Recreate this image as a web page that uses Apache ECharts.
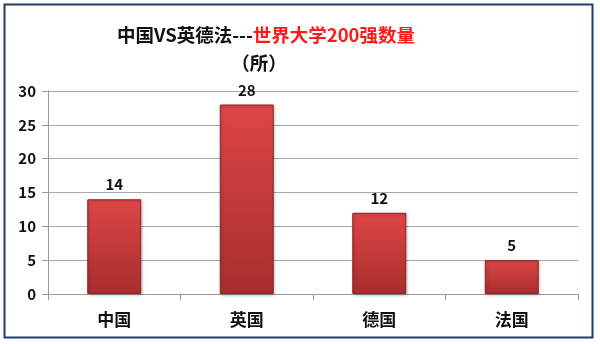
<!DOCTYPE html>
<html><head><meta charset="utf-8">
<script src="https://cdn.jsdelivr.net/npm/echarts@6/dist/echarts.min.js"></script>
<style>html,body{margin:0;padding:0;background:#fff}#c{width:600px;height:344px}</style>
</head><body><div id="c"></div>
<script>
const categories = ['中国', '英国', '德国', '法国'];
const values = [14, 28, 12, 5];
const yTicks = [0, 5, 10, 15, 20, 25, 30];

const chart = echarts.init(document.getElementById('c'), null, {renderer: 'canvas'});
const font = '"Noto Sans CJK SC", "Noto Sans", sans-serif';
chart.setOption({
  backgroundColor: '#fff',
  animation: false,
  graphic: [{
    type: 'rect', shape: {x: 4.5, y: 4.5, width: 588, height: 333},
    style: {fill: 'none', stroke: '#1f3a6e', lineWidth: 2}, silent: true
  }],
  title: [{
    text: '{b|中国VS英德法---}{r|世界大学200强数量}',
    left: 261, textAlign: 'center', top: 16,
    textStyle: {
      fontFamily: font, lineHeight: 28,
      rich: {
        b: {fontFamily: font, fontSize: 18.5, fontWeight: 'bold', color: '#111', lineHeight: 28},
        r: {fontFamily: font, fontSize: 18.5, fontWeight: 'bold', color: '#ff1a1a', lineHeight: 28}
      }
    }
  }, {
    text: '（所）',
    left: 254, textAlign: 'center', top: 44,
    textStyle: {fontFamily: font, fontSize: 18.5, fontWeight: 'bold', color: '#111', lineHeight: 28}
  }],
  grid: {left: 48, right: 22, top: 91, bottom: 50, containLabel: false},
  xAxis: {
    type: 'category', data: categories,
    axisLine: {lineStyle: {color: '#999', width: 1}},
    axisTick: {show: true, length: 6, lineStyle: {color: '#999'}, alignWithLabel: false},
    axisLabel: {fontFamily: font, fontSize: 17, fontWeight: 'bold', color: '#111', margin: 17}
  },
  yAxis: {
    type: 'value', min: 0, max: 30, interval: 5,
    axisLine: {show: true, lineStyle: {color: '#999'}},
    axisTick: {show: true, length: 6, lineStyle: {color: '#999'}},
    splitLine: {lineStyle: {color: '#a8a8a8', width: 1}},
    axisLabel: {fontFamily: font, fontSize: 15, fontWeight: 'bold', color: '#111', margin: 12,
      formatter: v => yTicks.includes(v) ? String(v) : ''}
  },
  series: [{
    type: 'bar', data: values, barWidth: 54,
    itemStyle: {
      color: {type: 'linear', x: 0, y: 0, x2: 0, y2: 1, colorStops: [
        {offset: 0, color: '#de4646'}, {offset: 1, color: '#a82d2d'}]},
      borderColor: '#8e2424', borderWidth: 1,
      shadowColor: 'rgba(0,0,0,0.25)', shadowBlur: 3, shadowOffsetX: 1, shadowOffsetY: 1
    },
    label: {show: true, position: 'top', distance: 7, fontFamily: font, fontSize: 15,
      fontWeight: 'bold', color: '#111'}
  }]
});
</script></body></html>
